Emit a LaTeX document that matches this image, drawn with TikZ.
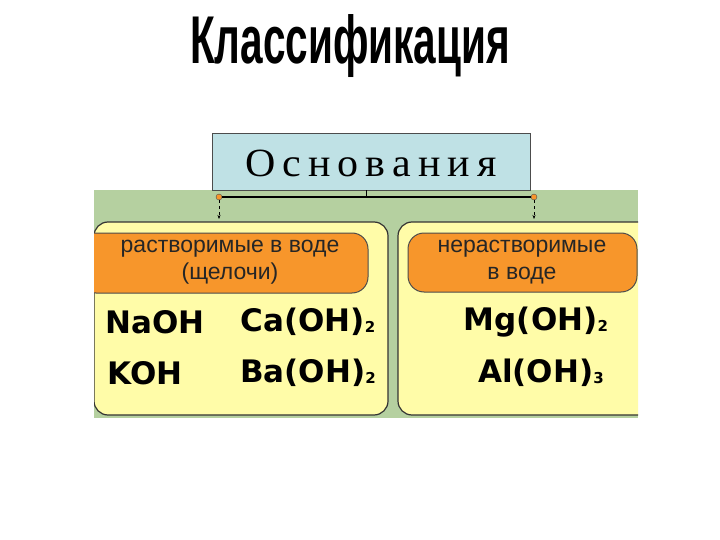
\documentclass[tikz,border=0pt]{standalone}
\usepackage{fontspec}
\setmainfont{Liberation Serif}
\newfontfamily\sansf{Liberation Sans}
\newfontfamily\formf{DejaVu Sans}
\usetikzlibrary{arrows.meta}
\definecolor{bgG}{HTML}{B5D0A0}
\definecolor{boxB}{HTML}{BFE1E5}
\definecolor{yel}{HTML}{FFFCA8}
\definecolor{orn}{HTML}{F7962B}
\newcommand{\subx}[1]{{\fontsize{15}{15}\selectfont\raisebox{-1pt}{#1}}}
\tikzset{
  panel/.style={draw=black!80,line width=1.2pt,fill=yel,rounded corners=14pt},
  pill/.style={draw=black!70,line width=1pt,fill=orn,rounded corners=16pt},
  pilltxt/.style={font=\sansf\fontsize{23}{27}\selectfont,align=center,text=black!85},
  form/.style={font=\formf\bfseries\fontsize{31}{33}\selectfont,inner sep=0pt},
  dot/.style={circle,fill=orn,draw=black!70,inner sep=0pt,minimum size=6pt},
}
\begin{document}
\begin{tikzpicture}[x=1pt,y=-1pt]
\useasboundingbox (0,0) rectangle (720,540);
\fill[white] (0,0) rectangle (720,540);
\node[font=\sansf\bfseries\fontsize{52}{54}\selectfont,xscale=0.78,yscale=1.3] (title) at (350,46) {Классификация};
\fill[bgG] (94,190) rectangle (638,418);
\begin{scope}
\clip (94,190) rectangle (638,418);
\draw[panel] (94,222) rectangle (388,415);
\draw[panel] (398,222) rectangle (660,415);
\draw[pill] (80,233) rectangle (368,293);
\draw[pill] (408,233) rectangle (637,292);
\end{scope}
\node[draw=black!70,fill=boxB,minimum width=318pt,minimum height=57pt,anchor=north west,inner sep=0pt] (osn) at (212,133) {};
\node[font=\fontsize{40}{42}\selectfont,xscale=1.05] (osnt) at (371,163) {О\,с\,н\,о\,в\,а\,н\,и\,я};
\coordinate (j) at (366,197);
\node[dot] (d1) at (219,197) {};
\node[dot] (d2) at (534,197) {};
\coordinate (a1) at (219,219);
\coordinate (a2) at (534,219);
\draw[line width=1.6pt] (d1) -- (d2);
\draw[line width=1pt] (osn.south -| j) -- (j);
\draw[dashed,-{Stealth[length=4pt]}] (d1) -- (a1);
\draw[dashed,-{Stealth[length=4pt]}] (d2) -- (a2);
\node[pilltxt] (p1) at (230,262) {растворимые в воде\\(щелочи)};
\node[pilltxt] (p2) at (522,262) {нерастворимые\\в воде};
\node[form] (f1) at (155,322) {NaOH};
\node[form] (f2) at (308,322) {Ca(OH)\subx{2}};
\node[form] (f3) at (145,373) {KOH};
\node[form] (f4) at (308,373) {Ba(OH)\subx{2}};
\node[form] (f5) at (536,322) {Mg(OH)\subx{2}};
\node[form] (f6) at (541,373) {Al(OH)\subx{3}};
\end{tikzpicture}
\end{document}
